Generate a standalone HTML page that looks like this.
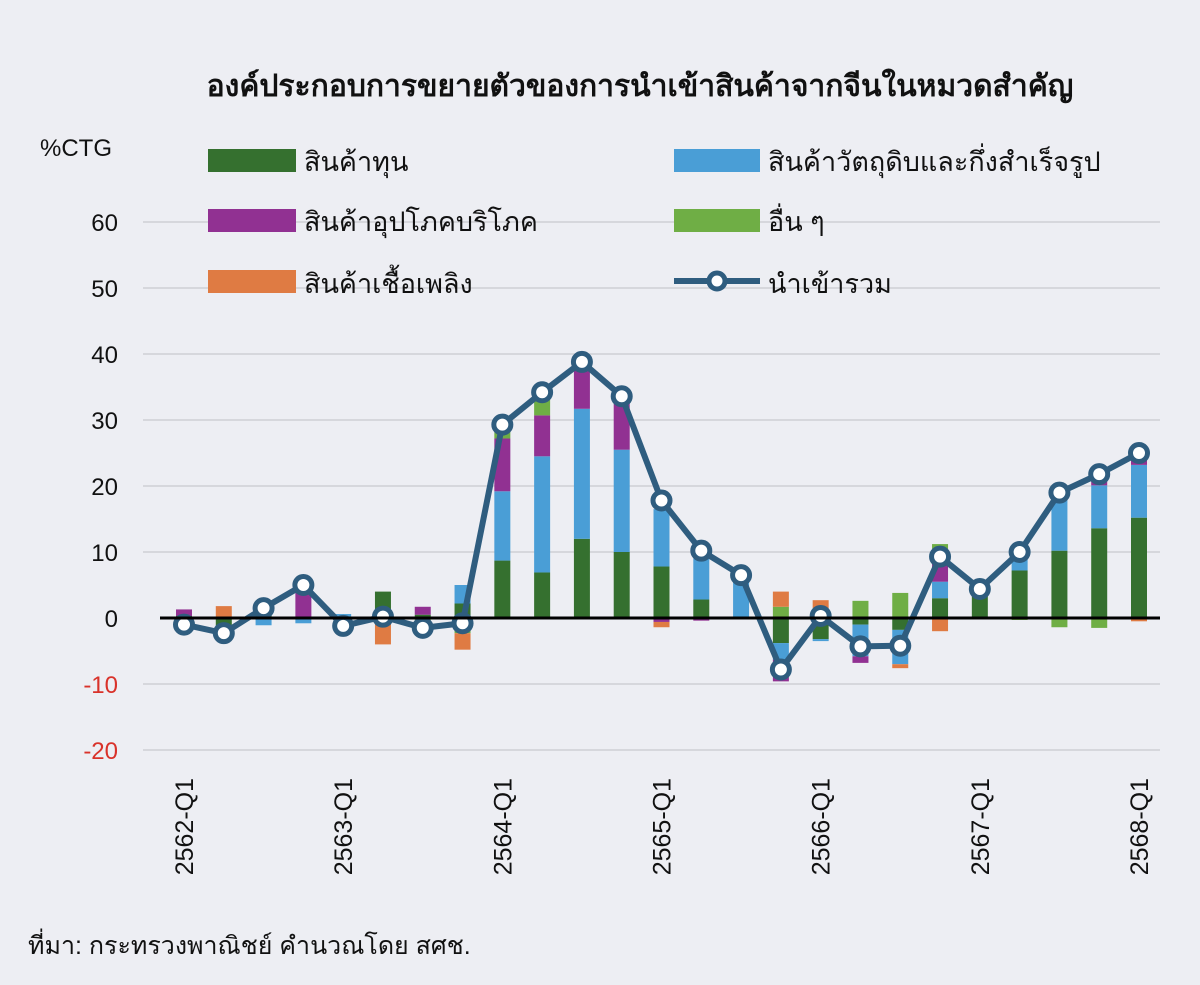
<!DOCTYPE html>
<html><head><meta charset="utf-8">
<style>
body{margin:0;width:1200px;height:985px;background:#edeef3;font-family:"Liberation Sans","DejaVu Sans",sans-serif;overflow:hidden}
svg{display:block}
</style></head>
<body>
<svg id="chart" width="1200" height="985" viewBox="0 0 1200 985">
<rect x="0" y="0" width="1200" height="985" fill="#edeef3"/>
<text x="640" y="96" text-anchor="middle" font-size="30" font-weight="bold" fill="#111">องค์ประกอบการขยายตัวของการนำเข้าสินค้าจากจีนในหมวดสำคัญ</text>
<text x="40" y="156" font-size="24" fill="#111">%CTG</text>
<g id="grid"></g><g id="bars"></g><g id="line"></g><g id="axes"></g>
<g id="legend">
 <rect x="208" y="149" width="88" height="23" fill="#35702f"/>
 <text x="304" y="171" font-size="27" fill="#111">สินค้าทุน</text>
 <rect x="208" y="209" width="88" height="23" fill="#913192"/>
 <text x="304" y="231" font-size="27" fill="#111">สินค้าอุปโภคบริโภค</text>
 <rect x="208" y="270" width="88" height="23" fill="#df7b43"/>
 <text x="304" y="293" font-size="27" fill="#111">สินค้าเชื้อเพลิง</text>
 <rect x="674" y="149" width="86" height="23" fill="#4a9ed6"/>
 <text x="768" y="171" font-size="27" fill="#111">สินค้าวัตถุดิบและกึ่งสำเร็จรูป</text>
 <rect x="674" y="209" width="86" height="23" fill="#6fae45"/>
 <text x="768" y="231" font-size="27" fill="#111">อื่น ๆ</text>
 <line x1="674" y1="281" x2="760" y2="281" stroke="#2f5d7f" stroke-width="6"/>
 <circle cx="717" cy="281" r="8" fill="#fff" stroke="#2f5d7f" stroke-width="5"/>
 <text x="768" y="293" font-size="27" fill="#111">นำเข้ารวม</text>
</g>
<text x="28" y="954" font-size="25" fill="#111">ที่มา: กระทรวงพาณิชย์ คำนวณโดย สศช.</text>
</svg>
<script>
const categories=["2562-Q1","2562-Q2","2562-Q3","2562-Q4","2563-Q1","2563-Q2","2563-Q3","2563-Q4","2564-Q1","2564-Q2","2564-Q3","2564-Q4","2565-Q1","2565-Q2","2565-Q3","2565-Q4","2566-Q1","2566-Q2","2566-Q3","2566-Q4","2567-Q1","2567-Q2","2567-Q3","2567-Q4","2568-Q1"];
const capital=[0.3,-2.5,0.6,0,-0.5,4,0.5,2.2,8.7,6.9,12,10,7.8,2.8,0,-3.8,-3.2,-1,-1.8,3,4.2,7.2,10.2,13.6,15.2];
const raw=[-0.4,-0.3,-1.1,-0.8,0.6,0,0,2.8,10.5,17.6,19.7,15.5,8.7,6.2,6,-2.5,-0.3,-4.8,-5.2,2.5,0.2,2,8.3,6.5,8];
const consumer=[1,0,0.3,4,0,0,1.2,-1.5,8,6.2,6,7,-0.6,-0.4,-0.2,-3.3,0,-1,0,4,0,0.8,0,1.5,1.2];
const others=[-0.5,0,0,0,-0.4,-0.5,-1,-0.8,1.2,2.5,0,0,0,0,0,1.7,1.5,2.6,3.8,1.7,0,-0.3,-1.4,-1.5,0];
const fuel=[-0.4,1.8,0,0,0,-3.5,-0.5,-2.5,0,0,0,0,-0.8,0,0,2.3,1.2,0,-0.6,-2,0,0,0,0,-0.5];
const total=[-1,-2.3,1.5,5,-1.2,0.2,-1.5,-0.8,29.3,34.2,38.8,33.6,17.8,10.2,6.5,-7.8,0.3,-4.3,-4.2,9.3,4.4,10,19,21.8,25];
const yTicks=[60,50,40,30,20,10,0,-10,-20];
const xTickLabels=["2562-Q1","2563-Q1","2564-Q1","2565-Q1","2566-Q1","2567-Q1","2568-Q1"];
const NS="http://www.w3.org/2000/svg";
const X0=184,X1=1139,Y0=618,PX=6.6;
function xs(i){return X0+(X1-X0)*i/(categories.length-1);}
function ys(v){return Y0-v*PX;}
function mk(tag,attrs,parent){const e=document.createElementNS(NS,tag);for(const k in attrs)e.setAttribute(k,attrs[k]);parent.appendChild(e);return e;}
const grid=document.getElementById('grid'),axes=document.getElementById('axes'),bars=document.getElementById('bars'),line=document.getElementById('line');
yTicks.forEach(t=>{
 if(t!==0){const g=mk('line',{x1:143,x2:1160,y1:ys(t),y2:ys(t),stroke:'#d6d7dc','stroke-width':2},grid);
 
 }
 const tx=mk('text',{x:118,y:ys(t)+9,'text-anchor':'end','font-size':24,fill:t<0?'#d9322a':'#111'},axes);
 tx.textContent=t;
 
 
});
const series=[[capital,'#35702f','capital'],[raw,'#4a9ed6','raw'],[consumer,'#913192','consumer'],[others,'#6fae45','others'],[fuel,'#df7b43','fuel']];
categories.forEach((c,i)=>{
 let pos=0,neg=0;
 series.forEach(([arr,col,nm])=>{
  const v=arr[i];if(!v)return;
  let a,b;
  if(v>0){a=pos;b=pos+v;pos=b;}else{a=neg;b=neg+v;neg=b;}
  const r=mk('rect',{x:xs(i)-8,width:16,y:Math.min(ys(a),ys(b)),height:Math.abs(ys(a)-ys(b)),fill:col},bars);
  
  
 });
});
const zl=mk('line',{x1:160,x2:1160,y1:Y0,y2:Y0,stroke:'#000','stroke-width':3},axes);


const pl=mk('polyline',{points:total.map((v,i)=>xs(i)+','+ys(v)).join(' '),fill:'none',stroke:'#2f5d7f','stroke-width':6,'stroke-linejoin':'round'},line);


total.forEach((v,i)=>{
 const c=mk('circle',{cx:xs(i),cy:ys(v),r:8.5,fill:'#fff',stroke:'#2f5d7f','stroke-width':5},line);
 
 
});
xTickLabels.forEach(l=>{
 const i=categories.indexOf(l);
 const t=mk('text',{transform:'translate('+(xs(i)+9)+',778) rotate(-90)','text-anchor':'end','font-size':25,fill:'#111'},axes);
 t.textContent=l;
 
 
});
</script>
</body></html>
